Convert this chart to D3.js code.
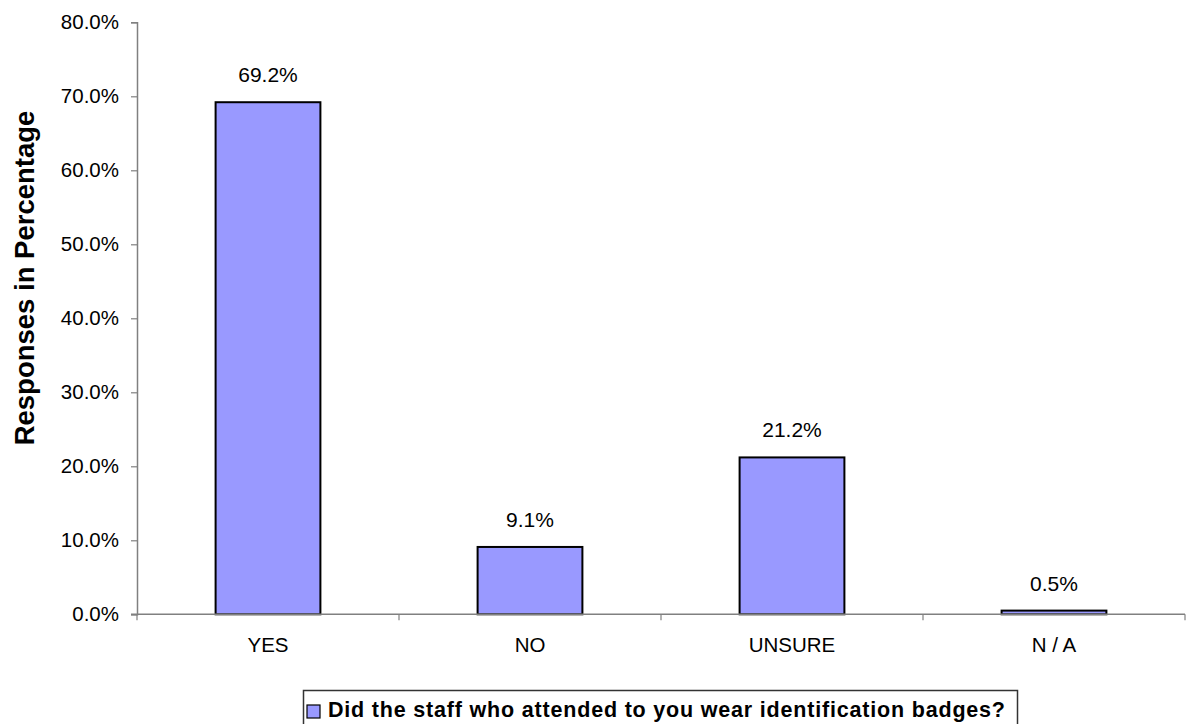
<!DOCTYPE html>
<html>
<head>
<meta charset="utf-8">
<script src="https://cdn.jsdelivr.net/npm/d3@7"></script>
<style>
  html, body { margin: 0; padding: 0; background: #ffffff; }
  svg { display: block; font-family: "Liberation Sans", Arial, sans-serif; }
</style>
</head>
<body>
<svg id="chart" width="1193" height="724"></svg>
<script>
const categories = ["YES", "NO", "UNSURE", "N / A"];
const values = [69.2, 9.1, 21.2, 0.5];
const yTicks = [0, 10, 20, 30, 40, 50, 60, 70, 80];
const seriesName = "Did the staff who attended to you wear identification badges?";
const yTitle = "Responses in Percentage";

const svg = d3.select("#chart");
const plotLeft = 137, plotRight = 1185, plotTop = 22.3, plotBottom = 614.3;

const x = d3.scaleBand().domain(categories).range([plotLeft, plotRight])
  .paddingInner(0.6).paddingOuter(0.3);
const y = d3.scaleLinear().domain([0, 80]).range([plotBottom, plotTop]);

// Y axis
const yAxis = svg.append("g").attr("transform", `translate(${plotLeft},0)`)
  .call(d3.axisLeft(y).tickValues(yTicks).tickFormat(d => d.toFixed(1) + "%")
    .tickSizeOuter(0).tickSize(6).tickPadding(12));
yAxis.select(".domain").attr("stroke", "#808080").attr("stroke-width", 1.5);
yAxis.selectAll(".tick line").attr("stroke", "#808080").attr("stroke-width", 1.2);
yAxis.selectAll(".tick text").attr("fill", "#000").style("font-size", "20.5px")
  .style("font-family", "'Liberation Sans', Arial, sans-serif");

// Bars
svg.append("g").selectAll("rect").data(categories).join("rect")
  .attr("x", d => x(d))
  .attr("y", (d, i) => y(values[i]))
  .attr("width", x.bandwidth())
  .attr("height", (d, i) => y(0) - y(values[i]))
  .attr("fill", "#9999FF")
  .attr("stroke", "#000")
  .attr("stroke-width", 2);

// X axis line and category boundary ticks
const xg = svg.append("g");
xg.append("line").attr("x1", plotLeft - 6).attr("x2", plotRight).attr("y1", y(0)).attr("y2", y(0))
  .attr("stroke", "#808080").attr("stroke-width", 1.5);
const bounds = d3.range(categories.length + 1).map(i => plotLeft + i * x.step());
xg.selectAll("line.tk").data(bounds).join("line").attr("class", "tk")
  .attr("x1", d => d).attr("x2", d => d).attr("y1", y(0)).attr("y2", y(0) + 6)
  .attr("stroke", "#808080").attr("stroke-width", 1.2);
xg.selectAll("text").data(categories).join("text")
  .attr("x", d => x(d) + x.bandwidth() / 2)
  .attr("y", y(0) + 38)
  .attr("text-anchor", "middle")
  .style("font-size", "20.5px")
  .attr("fill", "#000")
  .text(d => d);

// Value labels
svg.append("g").selectAll("text").data(categories).join("text")
  .attr("x", d => x(d) + x.bandwidth() / 2)
  .attr("y", (d, i) => y(values[i]) - 20)
  .attr("text-anchor", "middle")
  .style("font-size", "21px")
  .attr("fill", "#000")
  .text((d, i) => values[i].toFixed(1) + "%");

// Y title
svg.append("text")
  .attr("transform", `translate(34,278) rotate(-90)`)
  .attr("text-anchor", "middle")
  .style("font-size", "27.5px")
  .style("font-weight", "bold")
  .attr("fill", "#000")
  .text(yTitle);

// Legend
const lg = svg.append("g");
lg.append("rect")
  .attr("x", 303.5).attr("y", 690.5)
  .attr("width", 714).attr("height", 45)
  .attr("fill", "#fff").attr("stroke", "#333").attr("stroke-width", 1.5);
lg.append("text")
  .attr("x", 328).attr("y", 717)
  .attr("textLength", 677).attr("lengthAdjust", "spacing")
  .style("font-size", "21.5px").style("font-weight", "bold")
  .attr("fill", "#000")
  .text(seriesName);
lg.append("rect").attr("x", 307).attr("y", 705).attr("width", 13).attr("height", 13)
  .attr("fill", "#9999FF").attr("stroke", "#000").attr("stroke-width", 1.2);
</script>
</body>
</html>
